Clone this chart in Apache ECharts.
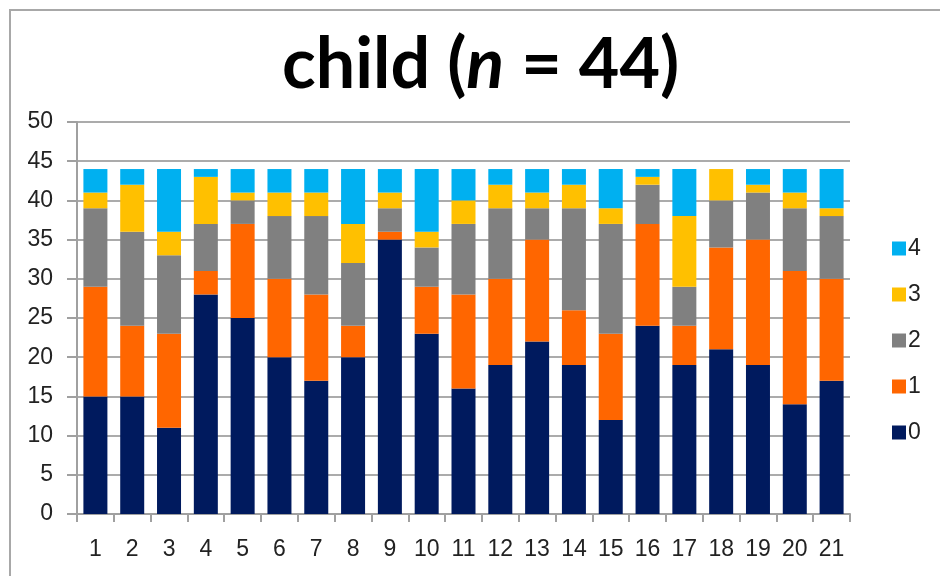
<!DOCTYPE html>
<html>
<head>
<meta charset="utf-8">
<script src="https://cdn.jsdelivr.net/npm/echarts@6/dist/echarts.min.js"></script>
<style>html,body{margin:0;padding:0;background:#fff}#c{width:940px;height:576px}</style>
</head>
<body>
<div id="c"></div>
<script>
var categories = ['1','2','3','4','5','6','7','8','9','10','11','12','13','14','15','16','17','18','19','20','21'];
var seriesNames = ['0','1','2','3','4'];
var s0 = [15,15,11,28,25,20,17,20,35,23,16,19,22,19,12,24,19,21,19,14,17];
var s1 = [14, 9,12, 3,12,10,11, 4, 1, 6,12,11,13, 7,11,13, 5,13,16,17,13];
var s2 = [10,12,10, 6, 3, 8,10, 8, 3, 5, 9, 9, 4,13,14, 5, 5, 6, 6, 8, 8];
var s3 = [ 2, 6, 3, 6, 1, 3, 3, 5, 2, 2, 3, 3, 2, 3, 2, 1, 9, 4, 1, 2, 1];
var s4 = [ 3, 2, 8, 1, 3, 3, 3, 7, 3, 8, 4, 2, 3, 2, 5, 1, 6, 0, 2, 3, 5];
var legendOrder = ['4','3','2','1','0'];
var colors = ['#001a5e','#ff6600','#808080','#ffc000','#00b0f0'];
var allValues = [s0,s1,s2,s3,s4];

var chart = echarts.init(document.getElementById('c'));
var font = 'Arial, "Liberation Sans", sans-serif';
var series = seriesNames.map(function(n,i){
  return {
    name: n, type: 'bar', stack: 'total', data: allValues[i],
    barWidth: 24, itemStyle: {color: colors[i]}
  };
});
chart.setOption({
  animation: false,
  backgroundColor: '#fff',
  title: {
    text: '{a|child (}{i|n}{a| = 44)}',
    left: 277, top: 25,
    textStyle: {
      rich: {
        a: {fontFamily: 'Lato', fontWeight: 'bold', fontSize: 70, color: '#000'},
        i: {fontFamily: 'Lato', fontWeight: 'bold', fontStyle: 'italic', fontSize: 70, color: '#000'}
      }
    }
  },
  graphic: [{
    type: 'rect', shape: {x: 10, y: 10, width: 1000, height: 1000},
    style: {fill: 'none', stroke: '#a8a8a8', lineWidth: 2}, silent: true
  }],
  legend: {
    orient: 'vertical', left: 892, top: 237, padding: 0,
    data: legendOrder,
    icon: 'rect', itemWidth: 14, itemHeight: 14, itemGap: 23,
    textStyle: {fontFamily: font, fontSize: 23, color: '#222', lineHeight: 23, padding: [0,0,0,-3]}
  },
  grid: {left: 77, right: 90, top: 122, bottom: 62},
  xAxis: {
    type: 'category', data: categories,
    axisLine: {lineStyle: {color: '#a0a0a0', width: 2}},
    axisTick: {show: true, length: 8, lineStyle: {color: '#a0a0a0', width: 2}},
    axisLabel: {fontFamily: font, fontSize: 23, color: '#222', margin: 24}
  },
  yAxis: {
    type: 'value', min: 0, max: 50, interval: 5,
    axisLine: {show: true, lineStyle: {color: '#a0a0a0', width: 2}},
    axisTick: {show: true, length: 10, lineStyle: {color: '#a0a0a0', width: 2}},
    axisLabel: {fontFamily: font, fontSize: 23, color: '#222', margin: 24},
    splitLine: {lineStyle: {color: '#ababab', width: 2}}
  },
  series: series
});
</script>
</body>
</html>
